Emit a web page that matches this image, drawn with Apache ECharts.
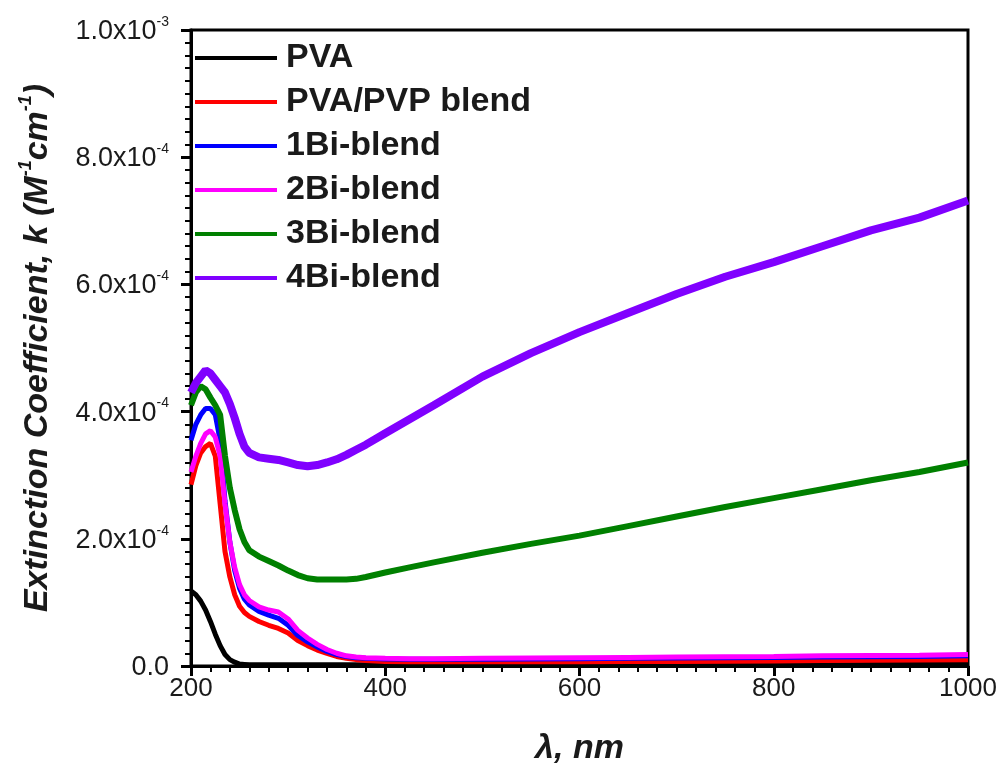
<!DOCTYPE html>
<html>
<head>
<meta charset="utf-8">
<script src="https://cdn.jsdelivr.net/npm/echarts@6/dist/echarts.min.js"></script>
<style>
html,body{margin:0;padding:0;background:#fff;}
#chart{width:1002px;height:763px;}
</style>
</head>
<body>
<div id="chart"></div>
<script>
// Wavelengths (nm)
var wavelength = [200,205,210,215,220,225,230,235,240,245,250,255,260,270,280,290,300,310,320,330,340,350,360,370,380,400,425,450,500,550,600,650,700,750,800,850,900,950,1000];

var seriesNames = ['PVA','PVA/PVP blend','1Bi-blend','2Bi-blend','3Bi-blend','4Bi-blend'];
var seriesColors = ['#000000','#ff0000','#0000ff','#ff00ff','#008000','#8000ff'];

var pva = [1.18e-4,1.12e-4,1.02e-4,8.8e-5,7.0e-5,5.0e-5,3.2e-5,1.8e-5,1.0e-5,6e-6,3e-6,2.5e-6,2e-6,2e-6,2e-6,2e-6,2e-6,2e-6,2e-6,2e-6,2e-6,2e-6,2e-6,2e-6,2e-6,2e-6,2e-6,2e-6,2e-6,2e-6,2e-6,2e-6,2e-6,2e-6,2e-6,2e-6,2.5e-6,2.5e-6,2.5e-6];
var pvaPvp = [2.85e-4,3.15e-4,3.35e-4,3.45e-4,3.5e-4,3.3e-4,2.55e-4,1.8e-4,1.4e-4,1.12e-4,9.4e-5,8.4e-5,7.8e-5,7.0e-5,6.4e-5,5.9e-5,5.2e-5,4.0e-5,3.2e-5,2.5e-5,2.0e-5,1.5e-5,1.2e-5,1.0e-5,8.5e-6,7e-6,6.5e-6,6.5e-6,6.5e-6,6.5e-6,6.5e-6,7e-6,7e-6,7.5e-6,8e-6,8.5e-6,9e-6,9.5e-6,1.0e-5];
var bi1 = [3.55e-4,3.8e-4,3.95e-4,4.05e-4,4.05e-4,3.95e-4,3.55e-4,2.6e-4,1.95e-4,1.5e-4,1.22e-4,1.05e-4,9.6e-5,8.6e-5,8.0e-5,7.5e-5,6.4e-5,4.8e-5,3.8e-5,3.0e-5,2.3e-5,1.8e-5,1.5e-5,1.3e-5,1.2e-5,1.1e-5,1.05e-5,1.05e-5,1.05e-5,1.1e-5,1.15e-5,1.2e-5,1.25e-5,1.3e-5,1.35e-5,1.4e-5,1.45e-5,1.5e-5,1.6e-5];
var bi2 = [3.05e-4,3.3e-4,3.5e-4,3.65e-4,3.7e-4,3.6e-4,3.3e-4,2.55e-4,1.95e-4,1.55e-4,1.28e-4,1.12e-4,1.03e-4,9.3e-5,8.8e-5,8.5e-5,7.4e-5,5.6e-5,4.4e-5,3.4e-5,2.6e-5,2.0e-5,1.6e-5,1.4e-5,1.3e-5,1.2e-5,1.15e-5,1.15e-5,1.2e-5,1.25e-5,1.3e-5,1.35e-5,1.4e-5,1.45e-5,1.5e-5,1.6e-5,1.65e-5,1.7e-5,1.8e-5];
var bi3 = [4.1e-4,4.3e-4,4.4e-4,4.35e-4,4.22e-4,4.1e-4,3.95e-4,3.3e-4,2.8e-4,2.45e-4,2.15e-4,1.95e-4,1.82e-4,1.72e-4,1.65e-4,1.58e-4,1.5e-4,1.43e-4,1.38e-4,1.36e-4,1.36e-4,1.36e-4,1.36e-4,1.37e-4,1.4e-4,1.47e-4,1.55e-4,1.63e-4,1.78e-4,1.92e-4,2.05e-4,2.2e-4,2.35e-4,2.5e-4,2.64e-4,2.78e-4,2.92e-4,3.05e-4,3.2e-4];
var bi4 = [4.3e-4,4.45e-4,4.55e-4,4.65e-4,4.6e-4,4.5e-4,4.4e-4,4.3e-4,4.12e-4,3.9e-4,3.65e-4,3.45e-4,3.35e-4,3.28e-4,3.26e-4,3.24e-4,3.2e-4,3.16e-4,3.14e-4,3.16e-4,3.2e-4,3.25e-4,3.32e-4,3.4e-4,3.48e-4,3.66e-4,3.88e-4,4.1e-4,4.55e-4,4.92e-4,5.25e-4,5.55e-4,5.85e-4,6.12e-4,6.35e-4,6.6e-4,6.85e-4,7.05e-4,7.32e-4];

var allValues = [pva, pvaPvp, bi1, bi2, bi3, bi4];
var lineWidths = [5,5,5,5,6,8];

function pairs(vals){
  return wavelength.map(function(x,i){ return [x, vals[i]]; });
}

var chart = echarts.init(document.getElementById('chart'), null, {renderer:'canvas'});
var FONT = 'Liberation Sans, Arial, sans-serif';

var series = allValues.map(function(v,i){
  return {
    name: seriesNames[i],
    type: 'line',
    data: pairs(v),
    showSymbol: false,
    symbol: 'none',
    smooth: false,
    lineStyle: {color: seriesColors[i], width: lineWidths[i]},
    itemStyle: {color: seriesColors[i]},
    emphasis: {disabled: true},
    z: 2 + i
  };
});

chart.setOption({
  animation: false,
  backgroundColor: '#ffffff',
  grid: {left: 191, top: 30, width: 777, height: 636, containLabel: false, outerBoundsMode: 'none',
         show: true, borderColor: '#000', borderWidth: 3, backgroundColor: 'transparent'},
  legend: {
    orient: 'vertical',
    left: 195,
    top: 38,
    padding: 0,
    itemWidth: 82,
    itemHeight: 4,
    itemGap: 4,
    icon: 'rect',
    data: seriesNames,
    textStyle: {fontFamily: FONT, fontSize: 34, fontWeight: 'bold', color: '#1a1a1a', lineHeight: 40, padding: [0,0,0,4]}
  },
  xAxis: {
    type: 'value',
    min: 200, max: 1000, interval: 200,
    name: 'λ, nm',
    nameLocation: 'middle',
    nameGap: 66,
    nameTextStyle: {fontFamily: FONT, fontSize: 34, fontStyle: 'italic', fontWeight: 'bold', color: '#1a1a1a'},
    axisLine: {show: true, lineStyle: {color: '#000', width: 3}},
    axisTick: {show: true, inside: false, length: 10, lineStyle: {color: '#000', width: 3}},
    minorTick: {show: true, splitNumber: 10, length: 6, lineStyle: {color: '#000', width: 2}},
    splitLine: {show: false},
    axisLabel: {fontFamily: FONT, fontSize: 26, color: '#1a1a1a', margin: 10,
      formatter: function(v){ return String(v); }}
  },
  yAxis: {
    type: 'value',
    min: 0, max: 0.001, interval: 0.0002,
    name: '{t|Extinction Coefficient, k (M}{s|-1}{t|cm}{s|-1}{t|)}',
    nameLocation: 'middle',
    nameGap: 136,
    nameRotate: 90,
    nameTextStyle: {
      rich: {
        t: {fontFamily: FONT, fontSize: 34, fontStyle: 'italic', fontWeight: 'bold', color: '#1a1a1a', lineHeight: 40, verticalAlign: 'bottom'},
        s: {fontFamily: FONT, fontSize: 18, fontStyle: 'italic', fontWeight: 'bold', color: '#1a1a1a', lineHeight: 40, verticalAlign: 'top', padding: [2,0,0,0]}
      }
    },
    axisLine: {show: true, lineStyle: {color: '#000', width: 3}},
    axisTick: {show: true, inside: false, length: 10, lineStyle: {color: '#000', width: 3}},
    minorTick: {show: true, splitNumber: 10, length: 6, lineStyle: {color: '#000', width: 2}},
    splitLine: {show: false},
    axisLabel: {
      margin: 22,
      formatter: function(v){
        if (Math.abs(v) < 1e-12) return '{b|0.0}';
        var e = Math.floor(Math.log10(v) + 1e-9);
        var m = v / Math.pow(10, e);
        return '{b|' + m.toFixed(1) + 'x10}{s|' + e + '}';
      },
      rich: {
        b: {fontFamily: FONT, fontSize: 27, color: '#1a1a1a', lineHeight: 30, verticalAlign: 'bottom'},
        s: {fontFamily: FONT, fontSize: 14, color: '#1a1a1a', lineHeight: 30, verticalAlign: 'top'}
      }
    }
  },
  series: series
});
</script>
</body>
</html>
